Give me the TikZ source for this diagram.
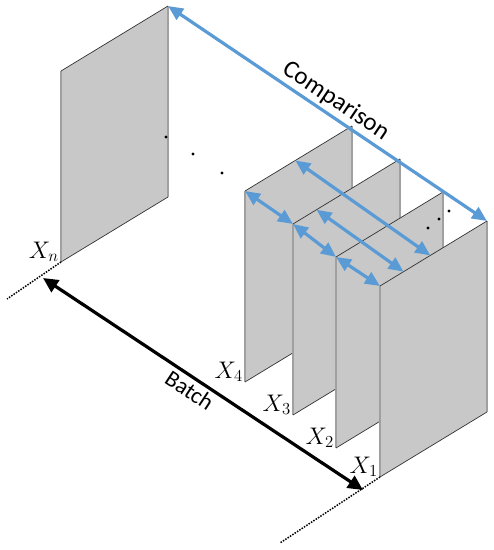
\RequirePackage{fix-cm}
\documentclass[tikz,border=0pt]{standalone}
\usepackage{fontspec}
\setmainfont{Carlito}
\usetikzlibrary{arrows.meta,calc}
\definecolor{panelgray}{HTML}{C8C8C8}
\definecolor{edgegray}{HTML}{A0A0A0}
\definecolor{cmpblue}{HTML}{5B9BD5}
\tikzset{
  panel/.style={fill=panelgray,draw=none},
  side/.style={draw=edgegray,line width=1.8pt},
  rim/.style={draw=black!80,line width=0.7pt},
  cmp/.style={draw=cmpblue,line width=3.2pt,
    {Triangle[length=15pt,width=13pt]}-{Triangle[length=15pt,width=13pt]}},
  bat/.style={draw=black,line width=3.2pt,
    {Triangle[length=15pt,width=14pt]}-{Triangle[length=15pt,width=14pt]}},
  axis/.style={line width=1.5pt,dash pattern=on 1.5pt off 1.3pt},
  lbl/.style={anchor=south east,inner sep=0pt,xshift=-2pt,
    font=\fontsize{24}{28}\selectfont},
  word/.style={sloped,inner sep=3pt}
}
% one sheet of the batch, #2 is its bottom-left corner
\newcommand{\sheet}[2]{%
  \path (#2) coordinate (#1-bl) ++(0,191) coordinate (#1-tl)
    ++(107,65) coordinate (#1-tr) ++(0,-191) coordinate (#1-br);
  \fill[panel] (#1-bl) -- (#1-tl) -- (#1-tr) -- (#1-br) -- cycle;
  \draw[side] (#1-bl) -- (#1-tl);
  \draw[side] (#1-br) -- (#1-tr);
  \draw[rim] (#1-tl) -- (#1-tr);
  \draw[rim] (#1-bl) -- (#1-br);
}
\begin{document}
\begin{tikzpicture}[x=1pt,y=1pt]
  \useasboundingbox (0,0) rectangle (494,550);
  % sheets, back to front
  \sheet{Xn}{61,288}
  \sheet{X4}{245,168}
  \sheet{X3}{293,135}
  \sheet{X2}{336,102}
  \sheet{X1}{380,73}
  \draw
    (Xn-bl) node[lbl] (ln){$X_n$}
    (X4-bl) node[lbl] (l4){$X_4$}
    (X3-bl) node[lbl] (l3){$X_3$}
    (X2-bl) node[lbl] (l2){$X_2$}
    (X1-bl) node[lbl] (l1){$X_1$};
  % batch axis
  \coordinate (endn) at ($(Xn-bl)+(-54,-37)$);
  \coordinate (end1) at ($(X1-bl)+(-100,-66)$);
  \draw[axis] (Xn-bl) -- (endn);
  \draw[axis] (X1-bl) -- (end1);
  \coordinate (bn) at ($(Xn-bl)+(-18,-16)$);
  \coordinate (b1) at ($(X1-bl)+(-17,-13)$);
  \draw[bat] (bn) -- node[word,below,pos=0.48,font=\fontsize{23}{27}\selectfont] (batch){Batch} (b1);
  % skipped sheets
  \foreach \p in {(166,413),(193,396),(222,377),(428,322),(439,331),(449,339)}
    \fill \p circle (1.6pt);
  % comparisons
  \begin{scope}[cmp]
    \draw (X4-tl) to (X3-tl);
    \draw (X3-tl) to (X2-tl);
    \draw (X2-tl) to (X1-tl);
    \draw ($(X4-tl)!0.47!(X4-tr)$) to ($(X1-tl)!0.47!(X1-tr)$);
    \draw ($(X3-tl)!0.22!(X3-tr)$) to ($(X1-tl)!0.22!(X1-tr)$);
    \draw (Xn-tr) to node[word,above,font=\fontsize{25}{30}\selectfont] (comp){Comparison} (X1-tr);
  \end{scope}
\end{tikzpicture}
\end{document}
